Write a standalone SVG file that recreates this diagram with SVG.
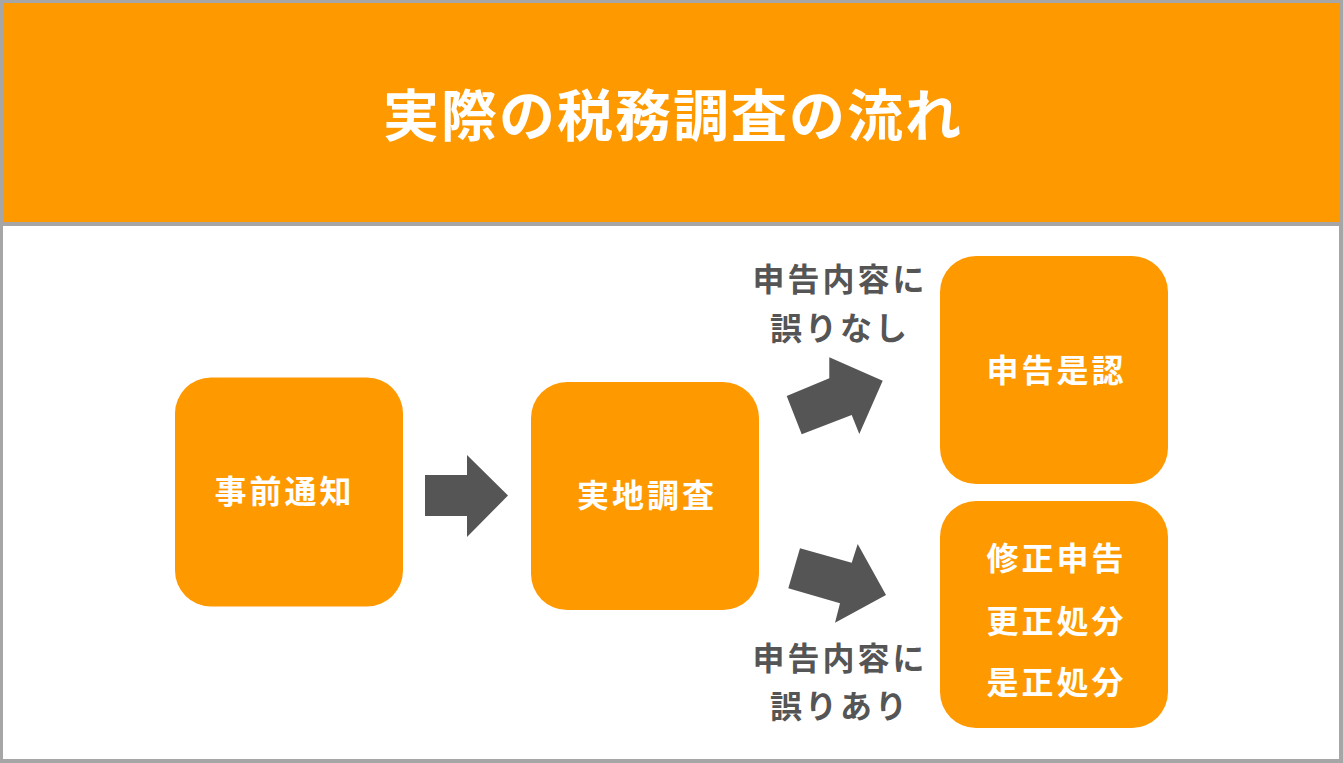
<svg xmlns="http://www.w3.org/2000/svg" width="1343" height="763" viewBox="0 0 1343 763">
<style>
.node{fill:#FF9900;}
.nt{font-family:"Noto Sans CJK JP","Noto Sans",sans-serif;font-weight:bold;font-size:32px;fill:#FFFFFF;text-anchor:middle;letter-spacing:3px;}
.lb{font-family:"Noto Sans CJK JP","Noto Sans",sans-serif;font-weight:bold;font-size:32px;fill:#555555;text-anchor:middle;letter-spacing:3px;}
.arr{fill:#555555;}
</style>
<rect x="0" y="0" width="1343" height="763" fill="#A6A6A6"/>
<rect x="3" y="3" width="1336" height="219" fill="#FF9900"/>
<rect x="3" y="226" width="1336" height="533" fill="#FFFFFF"/>
<text x="673" y="136" font-family="Noto Sans CJK JP, Noto Sans, sans-serif" font-weight="bold" font-size="56" fill="#FFFFFF" text-anchor="middle" letter-spacing="2">実際の税務調査の流れ</text>
<g id="connectors">
<polygon class="arr" points="425,475 467,475 467,455 508,495.5 467,537 467,516 425,516"/>
<polygon class="arr" points="786.7,396 829.3,378.3 829.3,357.3 882.7,380.7 859.3,434 851.7,415 801.7,434.3"/>
<polygon class="arr" points="800,548.3 851.7,562.7 857.7,544 886,595 835,622.7 840,603.3 788.3,588.3"/>
</g>
<g id="label-top">
<text class="lb" x="840" y="291">申告内容に</text>
<text class="lb" x="840" y="340">誤りなし</text>
</g>
<g id="label-bottom">
<text class="lb" x="840" y="670">申告内容に</text>
<text class="lb" x="840" y="718">誤りあり</text>
</g>
<g id="node-notice">
<rect class="node" x="175" y="377.5" width="228" height="229" rx="36"/>
<text class="nt" x="284.5" y="503">事前通知</text>
</g>
<g id="node-survey">
<rect class="node" x="531" y="382" width="228" height="228" rx="36"/>
<text class="nt" x="647" y="507">実地調査</text>
</g>
<g id="node-accept">
<rect class="node" x="940" y="256" width="228" height="228" rx="36"/>
<text class="nt" x="1056.5" y="382">申告是認</text>
</g>
<g id="node-correct">
<rect class="node" x="940" y="501" width="228" height="227" rx="36"/>
<text class="nt" x="1056.5" y="570">修正申告</text>
<text class="nt" x="1056.5" y="633">更正処分</text>
<text class="nt" x="1056.5" y="694">是正処分</text>
</g>
</svg>
